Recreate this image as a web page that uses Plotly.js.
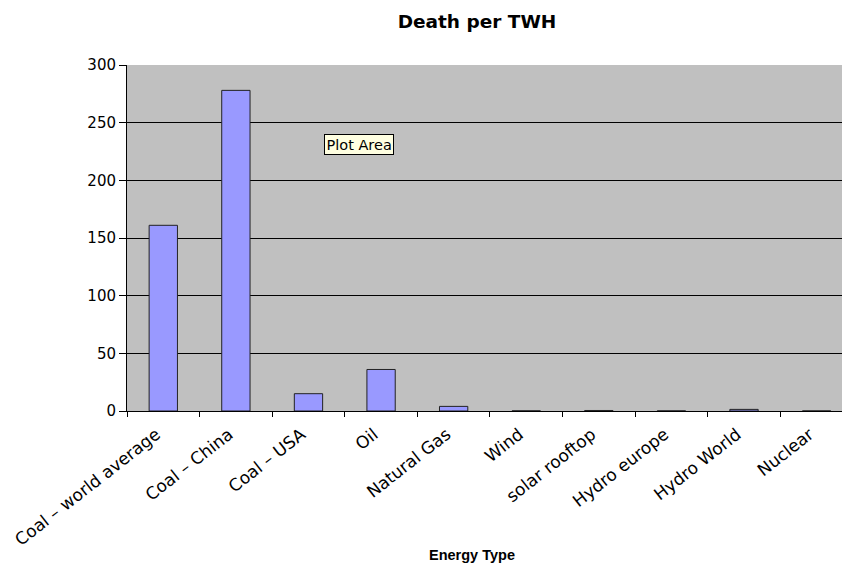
<!DOCTYPE html>
<html>
<head>
<meta charset="utf-8">
<script src="https://cdn.plot.ly/plotly-3.0.1.min.js"></script>
<style>html,body{margin:0;padding:0;background:#fff;}#chart{width:842px;height:570px;}</style>
</head>
<body>
<div id="chart"></div>
<script>
const categories = ["Coal – world average", "Coal – China", "Coal – USA", "Oil", "Natural Gas", "Wind", "solar rooftop", "Hydro europe", "Hydro World", "Nuclear"];
const deaths = [161, 278, 15, 36, 4, 0.15, 0.44, 0.1, 1.4, 0.04];
const yTicks = [0, 50, 100, 150, 200, 250, 300];

const trace = {
  type: "bar",
  x: categories,
  y: deaths,
  width: 0.39,
  marker: {color: "#9999FF", line: {color: "#222222", width: 1}},
  hoverinfo: "x+y"
};

const layout = {
  width: 842,
  height: 570,
  margin: {l: 127, r: 0, t: 65, b: 159, pad: 0},
  paper_bgcolor: "#FFFFFF",
  plot_bgcolor: "#C0C0C0",
  showlegend: false,
  font: {family: "DejaVu Sans, sans-serif", color: "#000", size: 13},
  title: {
    text: "<b>Death per TWH</b>",
    font: {family: "DejaVu Sans, sans-serif", size: 18.5, color: "#000"},
    x: 477/842, xref: "container", xanchor: "center",
    y: 1 - 22/570, yref: "container", yanchor: "middle"
  },
  xaxis: {
    type: "category",
    range: [-0.5, 9.35],
    tickson: "boundaries",
    ticks: "outside",
    ticklen: 5,
    tickcolor: "#000",
    tickangle: -38,
    ticklabelshift: -7,
    ticklabelstandoff: 6,
    tickfont: {family: "DejaVu Sans, sans-serif", size: 17},
    showline: true,
    linecolor: "#000",
    linewidth: 1,
    showgrid: false,
    automargin: false
  },
  yaxis: {
    range: [0, 300],
    tickvals: yTicks,
    ticks: "outside",
    ticklen: 7,
    tickcolor: "#000",
    tickfont: {family: "DejaVu Sans, sans-serif", size: 15},
    showline: true,
    linecolor: "#000",
    linewidth: 1,
    showgrid: true,
    gridcolor: "#000",
    gridwidth: 1,
    zeroline: false,
    automargin: false
  },
  annotations: [{
    text: "Plot Area",
    xref: "paper", yref: "paper",
    x: (324 - 127) / 715, y: (411 - 134) / 346,
    xanchor: "left", yanchor: "top",
    showarrow: false,
    bgcolor: "#FFFFE1",
    bordercolor: "#000",
    borderwidth: 1,
    borderpad: 1.5,
    font: {family: "DejaVu Sans, sans-serif", size: 14.5, color: "#000"}
  }, {
    text: "<b>Energy Type</b>",
    xref: "paper", yref: "paper",
    x: (472 - 127) / 715, y: -(555 - 411) / 346,
    xanchor: "center", yanchor: "middle",
    showarrow: false,
    font: {family: "Liberation Sans, Arial, sans-serif", size: 14.5, color: "#000"}
  }]
};

Plotly.newPlot("chart", [trace], layout, {displayModeBar: false, responsive: false});
</script>
</body>
</html>
